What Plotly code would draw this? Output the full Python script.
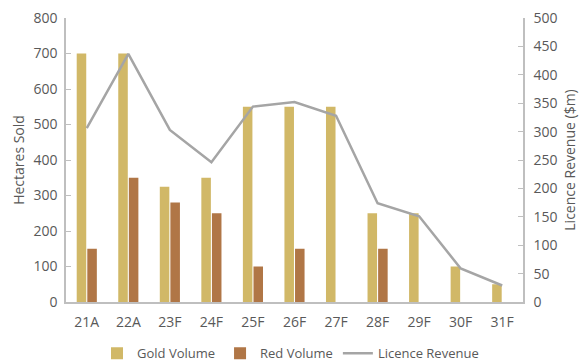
import plotly.graph_objects as go

categories = ["21A", "22A", "23F", "24F", "25F", "26F", "27F", "28F", "29F", "30F", "31F"]
gold_volume = [700, 700, 325, 350, 550, 550, 550, 250, 250, 100, 50]
red_volume = [150, 350, 280, 250, 100, 150, 0, 150, 0, 0, 0]
licence_revenue = [306, 437, 303, 246, 344, 352, 328, 174, 151, 59, 29]

GOLD = "#D1B867"
RED = "#B07646"
LINE = "#A5A5A5"
TXT = "#595959"
AX = "#BFBFBF"
FONT = "Open Sans"
FS = 14

fig = go.Figure()
fig.add_trace(go.Bar(x=categories, y=gold_volume, name="Gold Volume",
                     marker=dict(color=GOLD, line=dict(width=0))))
fig.add_trace(go.Bar(x=categories, y=red_volume, name="Red Volume",
                     marker=dict(color=RED, line=dict(width=0))))
fig.add_trace(go.Scatter(x=categories, y=licence_revenue, name="Licence Revenue",
                         mode="lines", line=dict(color=LINE, width=2.5), yaxis="y2"))

fig.add_annotation(text="Licence Revenue ($m)", textangle=-90, xref="paper", yref="paper",
                   x=1.1, y=0.5, xanchor="center", yanchor="middle", showarrow=False,
                   font=dict(size=FS, color=TXT))

fig.update_layout(
    width=581, height=363,
    margin=dict(l=66, r=58, t=18, b=61, autoexpand=False),
    plot_bgcolor="white", paper_bgcolor="white",
    font=dict(family=FONT, size=FS, color=TXT),
    barmode="group", bargap=0.49, bargroupgap=0.1,
    showlegend=True,
    legend=dict(orientation="h", x=0.5, xanchor="center", xref="container",
                y=-0.128, yanchor="top", yref="paper",
                font=dict(size=13, color=TXT), traceorder="normal"),
    xaxis=dict(showline=True, linecolor=AX, linewidth=1.5, ticks="", showgrid=False,
               ticklabelstandoff=6, tickfont=dict(size=FS, color=TXT)),
    yaxis=dict(range=[0, 800], dtick=100, showline=True, linecolor=AX, linewidth=1.5,
               ticks="inside", ticklen=5, tickcolor=AX, showgrid=False, zeroline=False,
               ticklabelstandoff=4,
               title=dict(text="Hectares Sold", font=dict(size=FS, color=TXT), standoff=6),
               tickfont=dict(size=FS, color=TXT)),
    yaxis2=dict(range=[0, 500], dtick=50, overlaying="y", side="right", showline=True,
                linecolor=AX, linewidth=1.5, ticks="inside", ticklen=5, tickcolor=AX,
                showgrid=False, zeroline=False, ticklabelstandoff=6,
                tickfont=dict(size=FS, color=TXT)),
)

fig.write_html("out.html")
